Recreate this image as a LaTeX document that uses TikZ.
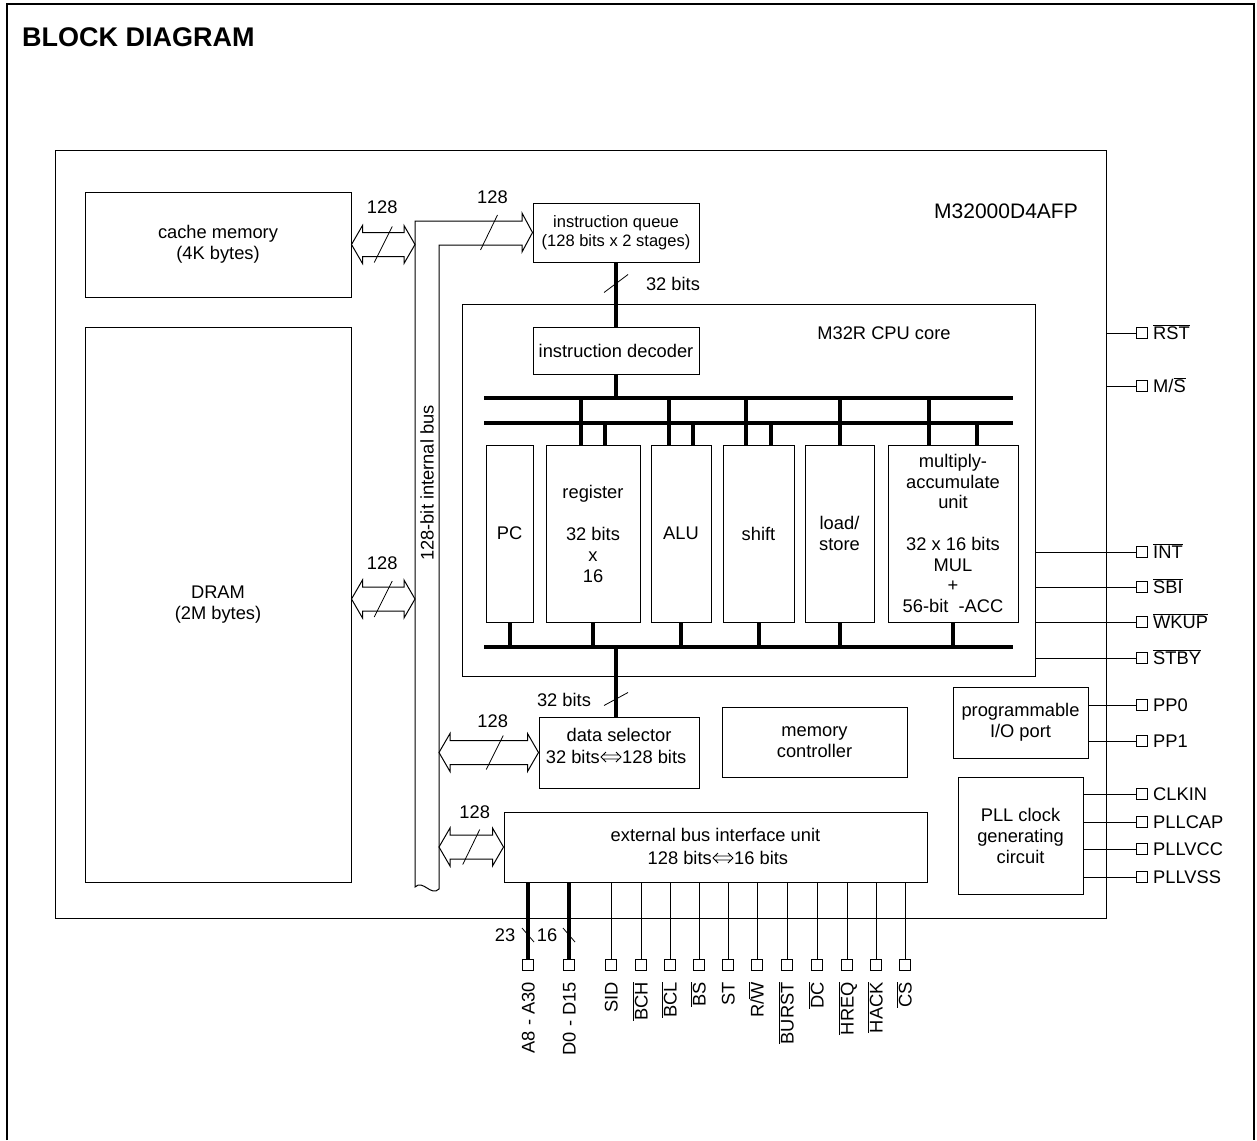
\documentclass[tikz,border=0pt]{standalone}
\usepackage{fontspec}
\setmainfont{Liberation Sans}
\usetikzlibrary{calc}
\newcommand\ovl[1]{$\overline{\hbox{#1}}$}
\newcommand\mydbl[2]{%
 \draw[thinl] let \p1=#1, \p2=#2 in
  (\x1,\y1) -- (\x1+11pt,\y1+19pt) -- (\x1+11pt,\y1+12pt) -- (\x2-11pt,\y1+12pt) -- (\x2-11pt,\y1+19pt) -- (\x2,\y1)
  -- (\x2-11pt,\y1-19pt) -- (\x2-11pt,\y1-12pt) -- (\x1+11pt,\y1-12pt) -- (\x1+11pt,\y1-19pt) -- cycle;}
\newcommand\smdbl[2]{%
 \draw[line width=0.9pt] let \p1=#1, \p2=#2 in
  (\x1+5pt,\y1+5pt) -- (\x1,\y1) -- (\x1+5pt,\y1-5pt)
  (\x2-5pt,\y1+5pt) -- (\x2,\y1) -- (\x2-5pt,\y1-5pt)
  (\x1+2pt,\y1+2pt) -- (\x2-2pt,\y1+2pt)
  (\x1+2pt,\y1-2pt) -- (\x2-2pt,\y1-2pt);}
\begin{document}
\begin{tikzpicture}[x=1pt,y=-1pt,
  every node/.style={font=\fontsize{18.3}{21}\selectfont, inner sep=0pt},
  box/.style={draw, line width=1pt, align=center},
  thinl/.style={line width=1pt},
  slashl/.style={line width=0.8pt},
  busline/.style={line width=4pt},
  pinsq/.style={draw, line width=1pt, minimum width=11pt, minimum height=11pt}]
\useasboundingbox (0,0) rectangle (1257,1140);
% outer frame
\draw[line width=2pt] (7,1140) -- (7,4) -- (1254,4) -- (1254,1140);
\node[anchor=base west, font=\bfseries\fontsize{27}{30}\selectfont] (title) at (22,47) {BLOCK DIAGRAM};
% chip
\node[box, minimum width=1051pt, minimum height=768pt] (chip) at (580.5,534) {};
\node[font=\fontsize{21}{24}\selectfont] (chipname) at (1006,211) {M32000D4AFP};
% memories
\node[box, minimum width=266pt, minimum height=105pt] (cache) at (218,244.5) {cache memory\\(4K bytes)};
\node[box, minimum width=266pt, minimum height=555pt] (dram) at (218,604.5) {DRAM\\(2M bytes)};
% instruction queue
\node[box, minimum width=166pt, minimum height=59pt, font=\fontsize{16.5}{19.5}\selectfont] (queue) at (616,232.5) {instruction queue\\(128 bits x 2 stages)};
% CPU core
\node[box, minimum width=573pt, minimum height=372pt] (core) at (748.5,490) {};
\node (corename) at (884,333) {M32R CPU core};
\node[box, minimum width=166pt, minimum height=47pt] (dec) at (616,350.5) {instruction decoder};
\node[box, minimum width=47pt, minimum height=177pt] (pc) at (509.5,533.5) {PC};
\node[box, minimum width=94pt, minimum height=177pt] (reg) at (593,533.5) {register\\[21pt]32 bits\\x\\16};
\node[box, minimum width=60pt, minimum height=177pt] (alu) at (681,533.5) {ALU};
\node[box, minimum width=71pt, minimum height=177pt] (shf) at (758.5,533.5) {shift};
\node[box, minimum width=69pt, minimum height=177pt] (ls) at (839.5,533.5) {load/\\store};
\node[box, minimum width=130pt, minimum height=177pt, font=\fontsize{18.3}{20.7}\selectfont] (mac) at (953,533.5) {multiply-\\accumulate\\unit\\[20.7pt]32 x 16 bits\\MUL\\+\\56-bit~ -ACC};
% CPU buses
\coordinate (ub1) at (484,398); \coordinate (ub2) at (1013,398);
\coordinate (lb1) at (484,423); \coordinate (lb2) at (1013,423);
\coordinate (bb1) at (484,647); \coordinate (bb2) at (1013,647);
\draw[busline] (ub1) -- (ub2);
\draw[busline] (lb1) -- (lb2);
\draw[busline] (bb1) -- (bb2);
\draw[busline] (queue.south) -- (dec.north);
\draw[busline] (dec.south) -- (dec.south |- ub1);
\foreach \n/\dx in {reg/-12, alu/-12, shf/-12.5, ls/0, mac/-24} {
  \coordinate (tl) at ($(\n.north)+(\dx,0)$);
  \draw[busline] (tl) -- (tl |- ub1);
}
\foreach \n/\dx in {reg/12, alu/12, shf/12.5, mac/24} {
  \coordinate (ts) at ($(\n.north)+(\dx,0)$);
  \draw[busline] (ts) -- (ts |- lb1);
}
\foreach \n in {pc,reg,alu,shf,ls,mac} \draw[busline] (\n.south) -- (\n.south |- bb1);
% data selector
\node[box, minimum width=160pt, minimum height=71pt] (dsel) at (619,752.5) {};
\node[anchor=base] (dselt) at ($(dsel.center)+(0,-11)$) {data selector};
\node[anchor=base east] (dsa) at ($(dsel.center)+(-19,11)$) {32 bits};
\node[anchor=base west] (dsb) at ($(dsel.center)+(3,11)$) {128 bits};
\smdbl{($(dsa.base east)+(1,-6.5)$)}{($(dsb.base west)+(-1,-6.5)$)}
\coordinate (ds) at (616,647);
\draw[busline] (ds) -- (ds |- dsel.north);
% other blocks
\node[box, minimum width=185pt, minimum height=70pt] (mem) at (814.5,742) {memory\\controller};
\node[box, minimum width=135pt, minimum height=71pt] (pio) at (1020.5,722.5) {programmable\\I/O port};
\node[box, minimum width=125pt, minimum height=117pt] (pll) at (1020.5,835.5) {PLL clock\\generating\\circuit};
% external bus interface unit
\node[box, minimum width=423pt, minimum height=70pt] (ebiu) at (715.5,847) {};
\node[anchor=base] (ebt) at ($(ebiu.center)+(0,-5.5)$) {external bus interface unit};
\node[anchor=base east] (eba) at ($(ebiu.center)+(-3.5,17.5)$) {128 bits};
\node[anchor=base west] (ebb) at ($(ebiu.center)+(18.5,17.5)$) {16 bits};
\smdbl{($(eba.base east)+(1,-6.5)$)}{($(ebb.base west)+(-1,-6.5)$)}
% 128-bit internal bus with arrow into the queue
\coordinate (busO) at (415,221); \coordinate (busI) at (439,245);
\draw[thinl] (522,221) -- (busO) -- (415,887) .. controls (423,879) and (431,897) .. (439,889) -- (busI)
  -- (522,245) -- (522,252) -- (queue.west) -- (522,213) -- cycle;
\node[rotate=90, anchor=west] (buslbl) at (427,561) {128-bit internal bus};
% double arrows
\mydbl{(cache.east)}{(busO |- cache.east)}
\coordinate (dramA) at ([yshift=5.5pt]dram.east);
\mydbl{(dramA)}{(busO |- dramA)}
\mydbl{(busI |- dsel.west)}{(dsel.west)}
\mydbl{(busI |- ebiu.west)}{(ebiu.west)}
% slashes and widths
\coordinate (m1) at ($(cache.east)!0.5!(busO |- cache.east)$);
\draw[slashl] (m1) +(-9,18) -- +(9,-18);
\node (w1) at ($(m1)+(-1,-37)$) {128};
\coordinate (m2) at ($(dramA)!0.5!(busO |- dramA)$);
\draw[slashl] (m2) +(-9,18) -- +(9,-18);
\node (w2) at ($(m2)+(-1,-36)$) {128};
\coordinate (m3) at ($(busI |- dsel.west)!0.5!(dsel.west)$);
\draw[slashl] ($(m3)+(6,0)$) +(-8.5,17) -- +(8.5,-17);
\node (w3) at ($(m3)+(4,-31)$) {128};
\coordinate (m4) at ($(busI |- ebiu.west)!0.5!(ebiu.west)$);
\draw[slashl] (m4) +(-8.5,17.5) -- +(8.5,-17.5);
\node (w4) at ($(m4)+(3.5,-35)$) {128};
\coordinate (m5) at ($(queue.west)+(-43.5,0)$);
\draw[slashl] (m5) +(-8.5,17.5) -- +(8.5,-17.5);
\node (w5) at ($(m5)+(3.5,-35.5)$) {128};
\coordinate (s1) at ($(queue.south)+(0,21)$);
\draw[slashl] (s1) +(-12,9) -- +(12,-9);
\node (b32a) at ($(s1)+(57,0)$) {32 bits};
\coordinate (s2) at ($(ds |- dsel.north)+(0,-17.5)$);
\draw[slashl] (s2) +(-12,6.5) -- +(12,-6.5);
\node (b32b) at ($(s2)+(-52,0.5)$) {32 bits};
% right-side pins
\foreach \id/\yy/\src/\txt in {rst/333/chip/\ovl{RST}, ms/386/chip/{M/\ovl{S}},
   int/552/core/\ovl{INT}, sbi/587/core/\ovl{SBI}, wkup/622/core/\ovl{WKUP}, stby/658/core/\ovl{STBY},
   pp0/705/pio/PP0, pp1/741/pio/PP1,
   clkin/794/pll/CLKIN, pllcap/822/pll/PLLCAP, pllvcc/849/pll/PLLVCC, pllvss/877/pll/PLLVSS} {
  \node[pinsq] (p\id) at (1141.5,\yy) {};
  \draw[thinl] (\src.east |- p\id.west) -- (p\id.west);
  \node[anchor=base west] (rl\id) at ($(p\id)+(11.5,6.5)$) {\txt};
}
% bottom pins
\foreach \xx/\lw/\txt [count=\i] in {528/4/{A8 - A30}, 569/4/{D0 - D15}, 611/1/SID, 641/1/\ovl{BCH},
   670/1/\ovl{BCL}, 699/1/\ovl{BS}, 728/1/ST, 757/1/{R/\ovl{W}}, 787/1/\ovl{BURST}, 817/1/\ovl{DC},
   847/1/\ovl{HREQ}, 876/1/\ovl{HACK}, 905/1/\ovl{CS}} {
  \node[pinsq] (bp\i) at (\xx,965) {};
  \draw[line width=\lw pt] (ebiu.south -| bp\i) -- (bp\i.north);
  \node[rotate=90, anchor=base east] (bl\i) at ($(bp\i)+(6.5,17)$) {\txt};
}
\coordinate (sa) at ($(bp1)+(0,-30)$);
\draw[slashl] (sa) +(-6,-7) -- +(6,7);
\node (n23) at ($(sa)+(-23,0)$) {23};
\coordinate (sd) at ($(bp2)+(0,-30)$);
\draw[slashl] (sd) +(-6,-7) -- +(6,7);
\node (n16) at ($(sd)+(-22,0)$) {16};
\end{tikzpicture}
\end{document}
